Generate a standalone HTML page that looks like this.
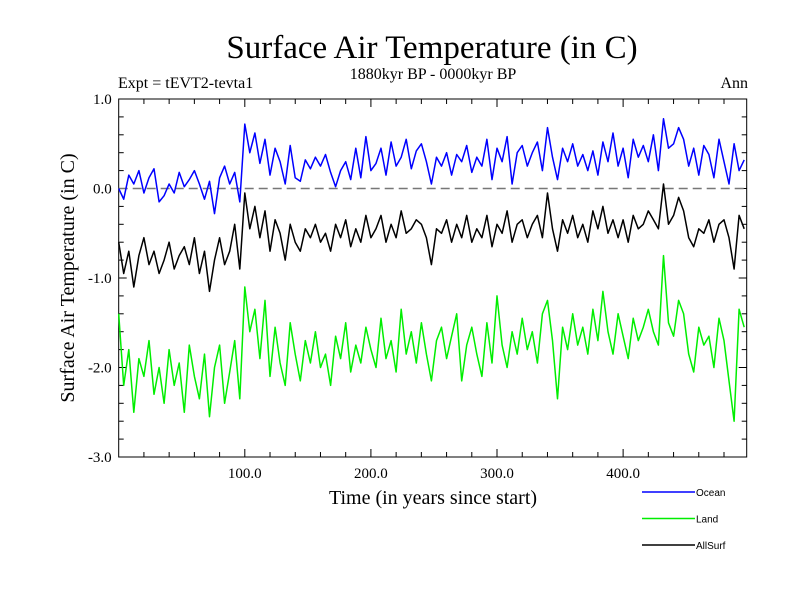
<!DOCTYPE html>
<html><head><meta charset="utf-8"><style>
html,body{margin:0;padding:0;background:#fff;}
svg{display:block;}
text{font-family:"Liberation Serif",serif;fill:#000;}
.leg{font-family:"Liberation Sans",sans-serif;font-size:10px;}
</style></head><body>
<svg id="chart" width="800" height="600">
<text x="432" y="58" font-size="33" text-anchor="middle">Surface Air Temperature (in C)</text>
<text x="118" y="88" font-size="16">Expt = tEVT2-tevta1</text>
<text x="433" y="79" font-size="16" text-anchor="middle">1880kyr BP - 0000kyr BP</text>
<text x="748" y="88" font-size="16" text-anchor="end">Ann</text>
<text transform="translate(74,278) rotate(-90)" font-size="20" text-anchor="middle">Surface Air Temperature (in C)</text>
<text x="433" y="504" font-size="20" text-anchor="middle">Time (in years since start)</text>
<g id="axes"></g>
<g id="series"></g>
<g id="legend"></g>
</svg>
<script>
const years=[];for(let i=0;i<125;i++)years.push(i*4);
const ocean=[0.00,-0.12,0.15,0.05,0.20,-0.05,0.12,0.22,-0.15,-0.08,
0.05,-0.05,0.18,0.02,0.10,0.20,0.05,-0.12,0.08,-0.28,
0.12,0.25,0.05,0.18,-0.15,0.72,0.40,0.62,0.28,0.55,
0.15,0.45,0.30,0.05,0.48,0.12,0.08,0.32,0.22,0.35,
0.25,0.38,0.18,0.02,0.20,0.30,0.10,0.45,0.12,0.58,
0.20,0.28,0.45,0.15,0.52,0.25,0.35,0.55,0.22,0.42,
0.50,0.30,0.05,0.35,0.25,0.40,0.15,0.38,0.30,0.48,
0.18,0.35,0.25,0.55,0.10,0.45,0.30,0.58,0.05,0.40,
0.48,0.25,0.40,0.52,0.20,0.68,0.35,0.10,0.45,0.30,
0.50,0.25,0.38,0.20,0.42,0.15,0.52,0.30,0.62,0.25,
0.45,0.12,0.55,0.35,0.48,0.30,0.60,0.20,0.78,0.45,
0.50,0.68,0.55,0.25,0.45,0.15,0.48,0.38,0.12,0.55,
0.30,0.05,0.50,0.20,0.32];
const land=[-1.40,-2.20,-1.80,-2.50,-1.90,-2.10,-1.70,-2.30,-2.00,-2.40,
-1.80,-2.20,-1.95,-2.50,-1.75,-2.10,-2.35,-1.85,-2.55,-2.00,
-1.75,-2.40,-2.05,-1.70,-2.35,-1.10,-1.60,-1.35,-1.90,-1.25,
-2.10,-1.55,-1.95,-2.20,-1.50,-1.85,-2.15,-1.70,-1.95,-1.60,
-2.00,-1.85,-2.20,-1.65,-1.90,-1.50,-2.05,-1.75,-1.95,-1.55,
-1.80,-2.00,-1.45,-1.90,-1.70,-2.05,-1.35,-1.85,-1.60,-1.95,
-1.50,-1.85,-2.15,-1.70,-1.55,-1.90,-1.65,-1.40,-2.15,-1.75,
-1.55,-1.85,-2.10,-1.50,-1.95,-1.20,-1.75,-2.00,-1.60,-1.85,
-1.45,-1.80,-1.60,-1.95,-1.40,-1.25,-1.70,-2.35,-1.55,-1.80,
-1.40,-1.75,-1.55,-1.85,-1.35,-1.70,-1.15,-1.60,-1.85,-1.40,
-1.65,-1.90,-1.45,-1.70,-1.55,-1.35,-1.60,-1.75,-0.75,-1.50,
-1.65,-1.25,-1.40,-1.85,-2.05,-1.55,-1.75,-1.65,-2.00,-1.45,
-1.70,-2.15,-2.60,-1.35,-1.55];
const allsurf=[-0.60,-0.95,-0.70,-1.10,-0.75,-0.55,-0.85,-0.70,-0.95,-0.80,
-0.60,-0.90,-0.75,-0.65,-0.85,-0.55,-0.95,-0.70,-1.15,-0.80,
-0.55,-0.85,-0.70,-0.40,-0.90,-0.05,-0.45,-0.20,-0.55,-0.25,
-0.70,-0.35,-0.50,-0.80,-0.40,-0.60,-0.70,-0.45,-0.55,-0.40,
-0.60,-0.50,-0.70,-0.40,-0.55,-0.35,-0.65,-0.45,-0.60,-0.30,
-0.55,-0.45,-0.30,-0.60,-0.40,-0.55,-0.25,-0.50,-0.45,-0.35,
-0.40,-0.55,-0.85,-0.45,-0.50,-0.35,-0.60,-0.40,-0.55,-0.30,
-0.60,-0.45,-0.55,-0.30,-0.65,-0.40,-0.50,-0.25,-0.60,-0.40,
-0.35,-0.55,-0.40,-0.30,-0.55,-0.05,-0.45,-0.70,-0.35,-0.50,
-0.30,-0.55,-0.40,-0.60,-0.25,-0.45,-0.20,-0.50,-0.35,-0.55,
-0.35,-0.60,-0.30,-0.45,-0.40,-0.25,-0.35,-0.45,0.05,-0.40,
-0.30,-0.10,-0.25,-0.55,-0.65,-0.45,-0.50,-0.35,-0.60,-0.40,
-0.35,-0.55,-0.90,-0.30,-0.45];
const xTicks=[100,200,300,400];
const xTickLabels=["100.0","200.0","300.0","400.0"];
const yTicks=[1,0,-1,-2,-3];
const yTickLabels=["1.0","0.0","-1.0","-2.0","-3.0"];
const seriesNames=["Ocean","Land","AllSurf"];

const X0=118.7,X1=746.7,XMAX=498,YT=99,YB=457,YMAX=1,YMIN=-3;
const xs=v=>X0+(v/XMAX)*(X1-X0);
const ys=v=>YT+(YMAX-v)/(YMAX-YMIN)*(YB-YT);
const NS="http://www.w3.org/2000/svg";
function mk(tag,attrs,parent){const e=document.createElementNS(NS,tag);for(const k in attrs)e.setAttribute(k,attrs[k]);parent.appendChild(e);return e;}
const axes=document.getElementById('axes');
const frame=mk('rect',{x:X0,y:YT,width:X1-X0,height:YB-YT,fill:'none',stroke:'#000','stroke-width':1},axes);


for(let v=20;v<XMAX;v+=20){
  const len=(v%100===0)?8:5;
  const t1=mk('line',{x1:xs(v),x2:xs(v),y1:YB,y2:YB-len,stroke:'#000'},axes);
  
  
  const t2=mk('line',{x1:xs(v),x2:xs(v),y1:YT,y2:YT+len,stroke:'#000'},axes);
  
  
}
for(let k=-14;k<=4;k++){
  const v=k*0.2;const len=(k%5===0)?8:5;
  const t1=mk('line',{x1:X0,x2:X0+len,y1:ys(v),y2:ys(v),stroke:'#000'},axes);
  
  
  const t2=mk('line',{x1:X1,x2:X1-len,y1:ys(v),y2:ys(v),stroke:'#000'},axes);
  
  
}
xTicks.forEach((v,i)=>{
  const t=mk('text',{x:xs(v),y:YB+21,'font-size':15,'text-anchor':'middle'},axes);
  t.textContent=xTickLabels[i];
  
  
});
yTicks.forEach((v,i)=>{
  const t=mk('text',{x:X0-7,y:ys(v)+5,'font-size':15,'text-anchor':'end'},axes);
  t.textContent=yTickLabels[i];
  
  
});
const zl=mk('line',{x1:X0,x2:X1,y1:ys(0),y2:ys(0),stroke:'#777','stroke-width':1.5,'stroke-dasharray':'9,5'},axes);



const sg=document.getElementById('series');
const colors=['#0000ff','#00ee00','#000000'];
const datas=[ocean,land,allsurf];
const order=[1,0,2];
order.forEach(si=>{
  const d=datas[si].map((v,i)=>(i?'L':'M')+xs(years[i]).toFixed(1)+','+ys(v).toFixed(1)).join('');
  const p=mk('path',{d:d,fill:'none',stroke:colors[si],'stroke-width':1.5,'stroke-linejoin':'round'},sg);
  
  
});
const lg=document.getElementById('legend');
seriesNames.forEach((n,i)=>{
  const y=492+i*26.5;
  const l=mk('line',{x1:642,x2:695,y1:y,y2:y,stroke:colors[i],'stroke-width':1.5},lg);
  
  
  const t=mk('text',{x:696,y:y+4,'class':'leg'},lg);
  t.textContent=n;
  
  
});
</script>
</body></html>
